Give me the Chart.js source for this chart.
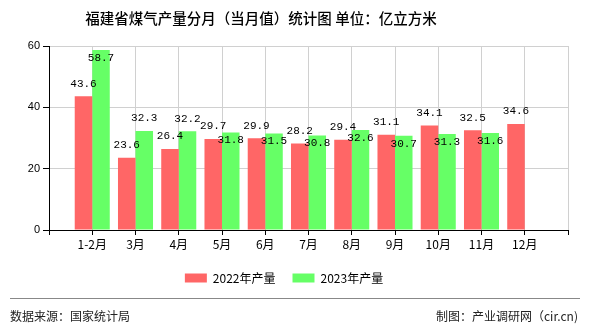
<!DOCTYPE html>
<html><head><meta charset="utf-8">
<script src="https://cdn.jsdelivr.net/npm/chart.js@4/dist/chart.umd.min.js"></script>
<style>html,body{margin:0;padding:0;background:#fff}#wrap{width:590px;height:330px;position:relative}</style>
</head><body><div id="wrap"><canvas id="c" width="590" height="330"></canvas></div>
<script>
const categories = ['', '1-2月', '3月', '4月', '5月', '6月', '7月', '8月', '9月', '10月', '11月', '12月', ''];
const series2022 = [null, 43.6, 23.6, 26.4, 29.7, 29.9, 28.2, 29.4, 31.1, 34.1, 32.5, 34.6, null];
const series2023 = [null, 58.7, 32.3, 32.2, 31.8, 31.5, 30.8, 32.6, 30.7, 31.3, 31.6, null, null];
const seriesNames = ['2022年产量', '2023年产量'];
const yTicks = [0, 20, 40, 60];
const titleText = '福建省煤气产量分月（当月值）统计图 单位：亿立方米';
const sourceText = '数据来源：国家统计局';
const makerText = '制图：产业调研网（cir.cn)';

const CJK = '"Noto Sans CJK SC", "Noto Sans", sans-serif';
const MONO = '"Liberation Mono", "DejaVu Sans Mono", monospace';

const extras = {
  id: 'extras',
  afterDatasetsDraw(chart) {
    const ctx = chart.ctx;
    const ca = chart.chartArea;
    const m0 = chart.getDatasetMeta(0), m1 = chart.getDatasetMeta(1);
    ctx.save();
    ctx.font = '11px ' + MONO;
    ctx.fillStyle = '#000';
    ctx.textAlign = 'center';
    ctx.textBaseline = 'middle';
    const h = 12;
    for (let i = 0; i < categories.length; i++) {
      let redRect = null;
      const v0 = series2022[i], v1 = series2023[i];
      if (v0 != null) {
        const b = m0.data[i];
        const t = v0.toFixed(1);
        const w = ctx.measureText(t).width;
        const y = b.y - 12.5;
        redRect = {l: b.x - w/2, r: b.x + w/2, t: y - h/2, b: y + h/2};
        ctx.fillText(t, b.x, y);
      }
      if (v1 != null) {
        const b = m1.data[i];
        const t = v1.toFixed(1);
        const w = ctx.measureText(t).width;
        let y = b.y - 12.5;
        const rr = {l: b.x - w/2, r: b.x + w/2, t: y - h/2, b: y + h/2};
        let clash = rr.t < ca.top;
        if (redRect && rr.l < redRect.r && rr.r > redRect.l && rr.t < redRect.b && rr.b > redRect.t) clash = true;
        if (clash) y = b.y + 8;
        ctx.fillText(t, b.x, y);
      }
    }
    ctx.restore();
  },
  afterDraw(chart) {
    const ctx = chart.ctx;
    ctx.save();
    ctx.fillStyle = '#000';
    ctx.font = '500 14.5px ' + CJK;
    ctx.textAlign = 'center';
    ctx.textBaseline = 'middle';
    ctx.fillText(titleText, 261, 18);
    ctx.strokeStyle = '#888';
    ctx.lineWidth = 1;
    ctx.beginPath();
    ctx.moveTo(10, 298.5);
    ctx.lineTo(580, 298.5);
    ctx.stroke();
    ctx.font = '12px ' + CJK;
    ctx.fillStyle = '#222';
    ctx.textAlign = 'left';
    ctx.fillText(sourceText, 10, 316);
    ctx.textAlign = 'right';
    ctx.fillText(makerText, 578, 316);
    ctx.restore();
  }
};

new Chart(document.getElementById('c'), {
  type: 'bar',
  data: {
    labels: categories,
    datasets: [
      {label: seriesNames[0], data: series2022, backgroundColor: '#ff6666', borderWidth: 0},
      {label: seriesNames[1], data: series2023, backgroundColor: '#66ff66', borderWidth: 0}
    ]
  },
  options: {
    responsive: false,
    animation: false,
    events: [],
    layout: {padding: {left: 0, right: 22, top: 46, bottom: 36}},
    datasets: {bar: {barPercentage: 1, categoryPercentage: 0.81}},
    plugins: {
      title: {display: false},
      tooltip: {enabled: false},
      legend: {
        position: 'bottom',
        labels: {
          boxWidth: 22, boxHeight: 9, padding: 17,
          color: '#000',
          font: {size: 12, family: CJK}
        }
      }
    },
    scales: {
      x: {
        offset: false,
        grid: {color: '#d0d0d0', tickColor: '#000', tickLength: 5, offset: false, drawOnChartArea: true},
        border: {color: '#000', width: 1},
        ticks: {color: '#000', font: {size: 12, family: CJK}, padding: 2, maxRotation: 0, autoSkip: false},
        afterFit(s) { s.height = 25; }
      },
      y: {
        min: 0, max: 60,
        afterBuildTicks(s) { s.ticks = yTicks.map(v => ({value: v})); },
        grid: {color: '#d0d0d0', tickColor: '#000', tickLength: 6},
        border: {color: '#000', width: 1},
        ticks: {color: '#000', font: {size: 11, family: '"Liberation Sans", sans-serif'}, padding: 3},
        afterFit(s) { s.width = 49; }
      }
    }
  },
  plugins: [extras]
});
</script></body></html>
